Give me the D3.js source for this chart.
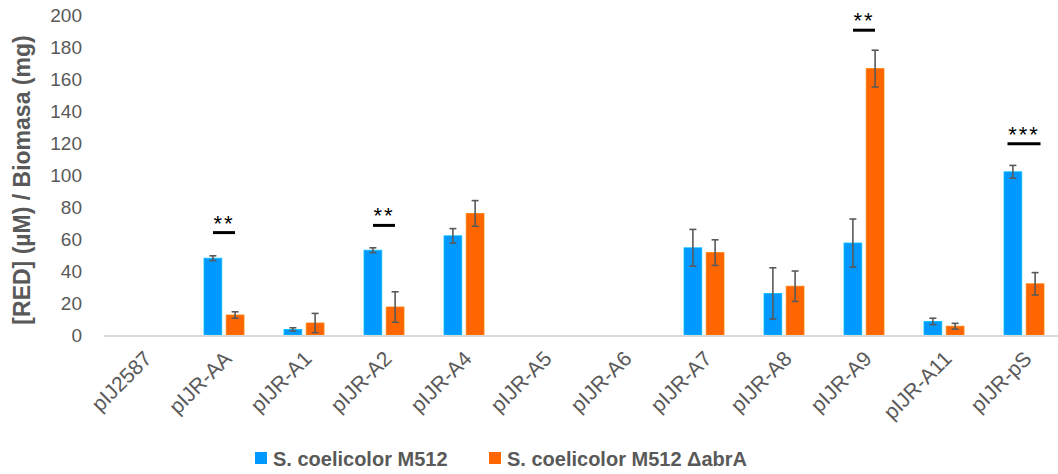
<!DOCTYPE html>
<html>
<head>
<meta charset="utf-8">
<script src="https://cdn.jsdelivr.net/npm/d3@7"></script>
<style>
  body { margin: 0; background: #fff; }
  svg { display: block; font-family: "Liberation Sans", Arial, sans-serif; }
</style>
</head>
<body>
<svg width="1058" height="474"></svg>
<script>
var categories = ['pIJ2587', 'pIJR-AA', 'pIJR-A1', 'pIJR-A2', 'pIJR-A4', 'pIJR-A5',
    'pIJR-A6', 'pIJR-A7', 'pIJR-A8', 'pIJR-A9', 'pIJR-A11', 'pIJR-pS'];
var seriesNames = ['S. coelicolor M512', 'S. coelicolor M512 \u0394abrA'];
var seriesColors = ['#0099ff', '#ff6600'];

// null = no bar drawn
var m512 = [null, 48, 3.5, 53, 62, null, null, 54.5, 26, 57.5, 8.5, 102];
var m512Err = [null, 1.5, 1, 1.5, 4.5, null, null, 11.5, 16, 15, 2, 4];
var abrA = [null, 12.5, 7.5, 17.5, 76, null, null, 51.5, 30.5, 166.5, 5.5, 32];
var abrAErr = [null, 2, 6, 9.5, 8, null, null, 8, 9.5, 11.5, 1.8, 7];

var yTicks = [0, 20, 40, 60, 80, 100, 120, 140, 160, 180, 200];

// significance marks
var sigCategories = ['pIJR-AA', 'pIJR-A2', 'pIJR-A9', 'pIJR-pS'];
var sigLabels = ['**', '**', '**', '***'];
var sigLevels = [64, 68.5, 190.5, 119.5];

var svg = d3.select('svg');
var grey = '#595959';

var x = d3.scaleBand()
    .domain(categories)
    .range([104, 1064]);

var xInner = d3.scaleBand()
    .domain([0, 1])
    .range([-20, 20])
    .paddingInner(0.2);

var y = d3.scaleLinear()
    .domain([0, 200])
    .range([335, 15]);

function center(c) {
    return x(c) + x.bandwidth() / 2;
}

// y tick labels
svg.append('g')
    .selectAll('text')
    .data(yTicks)
    .enter()
    .append('text')
    .attr('x', 82)
    .attr('y', function (d) { return y(d); })
    .attr('dy', '0.35em')
    .attr('text-anchor', 'end')
    .attr('font-size', 19)
    .attr('fill', grey)
    .text(function (d) { return d; });

// y axis title
svg.append('text')
    .attr('transform', 'translate(30,180) rotate(-90)')
    .attr('text-anchor', 'middle')
    .attr('font-size', 23)
    .attr('font-weight', 'bold')
    .attr('fill', grey)
    .text('[RED] (\u00b5M) / Biomasa (mg)');

// bars
var seriesData = [
    { values: m512, errs: m512Err },
    { values: abrA, errs: abrAErr }
];

seriesData.forEach(function (s, si) {
    var rows = categories.map(function (c, i) {
        return { cat: c, v: s.values[i], e: s.errs[i] };
    }).filter(function (d) { return d.v !== null; });

    var g = svg.append('g');

    g.selectAll('rect')
        .data(rows)
        .enter()
        .append('rect')
        .attr('x', function (d) { return center(d.cat) + xInner(si); })
        .attr('y', function (d) { return y(d.v); })
        .attr('width', xInner.bandwidth())
        .attr('height', function (d) { return y(0) - y(d.v); })
        .attr('fill', seriesColors[si])
        .attr('stroke', d3.color(seriesColors[si]).brighter(0.6))
        .attr('stroke-width', 0.8);

    var eb = g.selectAll('g.err')
        .data(rows)
        .enter()
        .append('g')
        .attr('class', 'err')
        .attr('stroke', grey)
        .attr('stroke-width', 1.6);

    function ex(d) { return center(d.cat) + xInner(si) + xInner.bandwidth() / 2; }

    eb.append('line')
        .attr('x1', ex).attr('x2', ex)
        .attr('y1', function (d) { return y(d.v + d.e); })
        .attr('y2', function (d) { return y(d.v - d.e); });
    eb.append('line')
        .attr('x1', function (d) { return ex(d) - 3.5; })
        .attr('x2', function (d) { return ex(d) + 3.5; })
        .attr('y1', function (d) { return y(d.v + d.e); })
        .attr('y2', function (d) { return y(d.v + d.e); });
    eb.append('line')
        .attr('x1', function (d) { return ex(d) - 3.5; })
        .attr('x2', function (d) { return ex(d) + 3.5; })
        .attr('y1', function (d) { return y(d.v - d.e); })
        .attr('y2', function (d) { return y(d.v - d.e); });
});

// baseline
svg.append('line')
    .attr('x1', 104)
    .attr('x2', 1058)
    .attr('y1', y(0) + 1)
    .attr('y2', y(0) + 1)
    .attr('stroke', '#d9d9d9')
    .attr('stroke-width', 2);

// x labels
svg.append('g')
    .selectAll('text')
    .data(categories)
    .enter()
    .append('text')
    .attr('transform', function (d) {
        return 'translate(' + (center(d) + 9) + ',360) rotate(-45)';
    })
    .attr('text-anchor', 'end')
    .attr('font-size', 21)
    .attr('fill', grey)
    .text(function (d) { return d; });

// significance
var sig = svg.append('g')
    .selectAll('g')
    .data(sigCategories)
    .enter()
    .append('g');

sig.append('line')
    .attr('x1', function (d, i) { return center(d) - sigLabels[i].length * 5.5; })
    .attr('x2', function (d, i) { return center(d) + sigLabels[i].length * 5.5; })
    .attr('y1', function (d, i) { return y(sigLevels[i]); })
    .attr('y2', function (d, i) { return y(sigLevels[i]); })
    .attr('stroke', '#000')
    .attr('stroke-width', 3);

sig.append('text')
    .attr('x', function (d) { return center(d); })
    .attr('y', function (d, i) { return y(sigLevels[i]) - 2; })
    .attr('text-anchor', 'middle')
    .attr('font-size', 22)
    .attr('letter-spacing', 2)
    .attr('fill', '#000')
    .text(function (d, i) { return sigLabels[i]; });

// legend
var legendX = [255, 489];
var legend = svg.append('g')
    .selectAll('g')
    .data(seriesNames)
    .enter()
    .append('g')
    .attr('transform', function (d, i) { return 'translate(' + legendX[i] + ',452)'; });

legend.append('rect')
    .attr('width', 12)
    .attr('height', 12)
    .attr('fill', function (d, i) { return seriesColors[i]; });

legend.append('text')
    .attr('x', 18)
    .attr('y', 14)
    .attr('font-size', 20)
    .attr('font-weight', 'bold')
    .attr('fill', grey)
    .text(function (d) { return d; });
</script>
</body>
</html>
